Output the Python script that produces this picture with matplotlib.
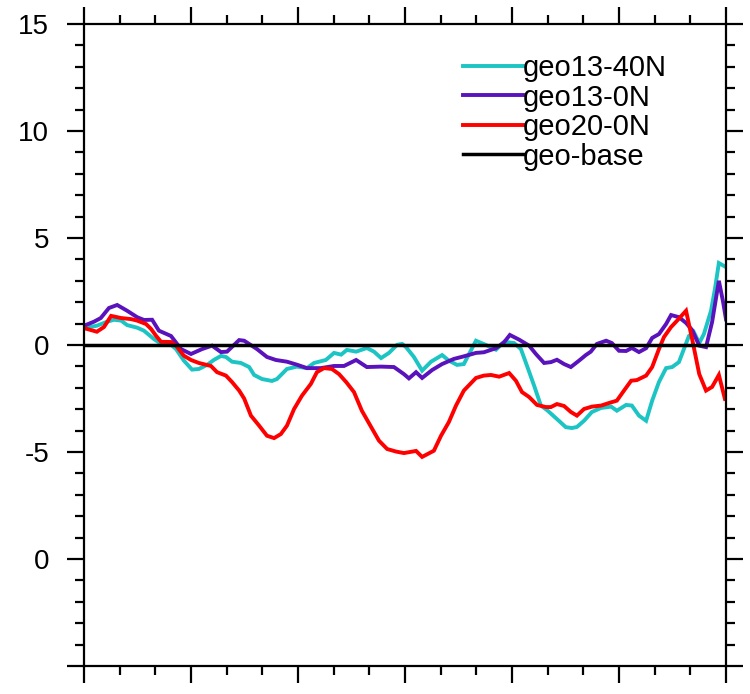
import numpy as np
import matplotlib
matplotlib.use("Agg")
import matplotlib.pyplot as plt
from matplotlib.ticker import MultipleLocator

plt.rcParams['font.family'] = ['Liberation Sans', 'DejaVu Sans']

# geo13-40N
x_40n = [0, 3.6, 6.2, 8.4, 10.4, 12.1, 14.9, 16.8, 19.6, 21.6, 24.4, 25.8, 28.0, 30.3, 32.2,
         34.5, 36.4, 38.4, 39.8, 41.5, 44.0, 46.3, 47.7, 49.9, 52.7, 54.1, 56.9, 59.7, 62.5, 64.5,
         67.8, 70.1, 72.1, 73.7, 76.3, 79.3, 81.3, 83.3, 85.5, 87.8, 89.2, 90.3, 92.5, 94.8, 97.3,
         100.4, 102.3, 104.6, 106.5, 109.9, 112.7, 115.5, 117.8, 120.6, 122.5, 124.2, 126.2, 128.1, 129.8, 132.6,
         135.1, 136.8, 138.2, 140.2, 142.4, 145.0, 147.8, 149.4, 152.0, 153.6, 155.6, 157.6, 159.3, 161.2, 163.2,
         164.9, 166.8, 168.2, 169.6, 171.0, 172.5, 173.8, 175.8, 176.9, 178.0, 180]
y_40n = [0.79, 0.9, 1.07, 1.18, 1.14, 0.93, 0.81, 0.67, 0.28, 0.05, 0.01, -0.19, -0.73, -1.15, -1.12,
         -0.93, -0.7, -0.51, -0.56, -0.78, -0.84, -1.03, -1.4, -1.59, -1.68, -1.59, -1.12, -1.01, -1.08, -0.84,
         -0.7, -0.37, -0.45, -0.23, -0.31, -0.14, -0.31, -0.61, -0.37, 0.01, 0.05, -0.1, -0.56, -1.2, -0.78,
         -0.47, -0.73, -0.93, -0.89, 0.2, 0.0, -0.22, 0.15, 0.09, -0.19, -0.97, -1.9, -2.83, -3.04, -3.46,
         -3.84, -3.88, -3.83, -3.54, -3.13, -2.94, -2.88, -3.07, -2.8, -2.83, -3.3, -3.54, -2.6, -1.73, -1.08,
         -1.03, -0.8, -0.19, 0.42, 0.6, 0.09, 0.51, 1.6, 2.62, 3.83, 3.64]

# geo13-0N
x_13 = [0, 2.8, 4.7, 7.0, 9.3, 12.1, 14.9, 16.8, 19.1, 21.0, 24.4, 27.2, 30.0, 33.1, 35.9,
        38.4, 40.1, 43.5, 44.9, 48.5, 51.3, 53.8, 56.9, 59.7, 62.5, 66.4, 70.1, 72.9, 76.3, 79.3,
        83.3, 86.9, 89.7, 91.1, 93.1, 94.8, 97.6, 100.4, 103.7, 106.5, 109.9, 112.1, 115.5, 117.8, 119.4,
        122.0, 124.8, 126.7, 129.0, 130.9, 132.6, 134.6, 136.5, 138.8, 140.7, 142.1, 143.8, 146.4, 148.0, 150.0,
        152.0, 153.6, 155.6, 157.6, 159.3, 161.2, 163.2, 164.6, 166.8, 168.8, 170.5, 172.5, 174.4, 176.1, 178.0,
        179.2, 180]
y_13 = [0.9, 1.09, 1.26, 1.73, 1.87, 1.6, 1.3, 1.17, 1.18, 0.67, 0.42, -0.19, -0.42, -0.19, -0.03,
        -0.33, -0.31, 0.23, 0.2, -0.19, -0.56, -0.7, -0.78, -0.92, -1.08, -1.08, -0.98, -0.98, -0.7, -1.03,
        -1.01, -1.03, -1.36, -1.56, -1.27, -1.54, -1.17, -0.89, -0.65, -0.53, -0.37, -0.34, -0.15, 0.13, 0.47,
        0.25, -0.03, -0.42, -0.84, -0.8, -0.69, -0.89, -1.03, -0.73, -0.47, -0.31, 0.05, 0.2, 0.09, -0.27,
        -0.28, -0.14, -0.33, -0.15, 0.33, 0.51, 0.98, 1.4, 1.3, 1.03, 0.7, -0.03, -0.1, 1.07, 3.0,
        2.0, 1.2]

# geo20-0N
x_20 = [0, 3.6, 5.6, 7.6, 10.4, 13.2, 14.9, 17.4, 18.8, 20.2, 21.6, 24.4, 25.8, 28.0, 30.0,
        32.2, 35.6, 37.3, 39.8, 41.5, 43.5, 44.9, 46.8, 49.1, 51.3, 53.3, 55.2, 56.9, 58.9, 61.1,
        63.6, 65.3, 67.3, 69.5, 71.5, 73.5, 75.7, 77.9, 80.5, 82.7, 85.0, 87.5, 89.7, 93.1, 94.8,
        98.1, 100.1, 102.3, 104.3, 106.5, 109.9, 112.1, 114.1, 116.4, 119.2, 121.1, 122.8, 124.8, 127.0, 129.5,
        130.9, 132.6, 134.6, 136.5, 138.2, 140.2, 142.4, 145.0, 147.2, 149.4, 151.4, 153.4, 155.0, 157.6, 159.3,
        161.2, 162.6, 164.6, 166.3, 168.8, 170.5, 172.5, 174.4, 176.1, 178.0, 179.7]
y_20 = [0.79, 0.62, 0.84, 1.36, 1.26, 1.21, 1.14, 0.98, 0.75, 0.43, 0.15, 0.14, -0.03, -0.5, -0.7,
        -0.84, -0.98, -1.27, -1.43, -1.73, -2.13, -2.5, -3.3, -3.77, -4.24, -4.35, -4.16, -3.77, -2.99, -2.37,
        -1.82, -1.27, -1.08, -1.12, -1.36, -1.73, -2.2, -3.07, -3.83, -4.47, -4.86, -4.98, -5.05, -4.95, -5.23,
        -4.94, -4.24, -3.6, -2.83, -2.13, -1.54, -1.43, -1.4, -1.48, -1.31, -1.67, -2.2, -2.43, -2.8, -2.9,
        -2.9, -2.76, -2.85, -3.13, -3.3, -2.99, -2.88, -2.83, -2.71, -2.6, -2.13, -1.67, -1.64, -1.43, -1.03,
        -0.19, 0.37, 0.84, 1.14, 1.6, 0.28, -1.36, -2.13, -1.96, -1.4, -2.52]

# geo-base (reference, zero everywhere)
x_base = [0, 180]
y_base = [0, 0]

ytick_vals = [15, 10, 5, 0, -5, -10, -15]
ytick_labels = ["15", "10", "5", "0", "-5", "0", ""]

fig = plt.figure(figsize=(7.5, 6.94), dpi=100)
ax = fig.add_axes([84 / 750, 28 / 694, 642 / 750, 642 / 694])

ax.plot(x_40n, y_40n, color='#1cc4c4', lw=2.8, label='geo13-40N', solid_joinstyle='miter')
ax.plot(x_13, y_13, color='#5a12bc', lw=2.8, label='geo13-0N', solid_joinstyle='miter')
ax.plot(x_20, y_20, color='#ff0000', lw=2.8, label='geo20-0N', solid_joinstyle='miter')
ax.plot(x_base, y_base, color='black', lw=2.5, label='geo-base')

ax.set_xlim(0, 180)
ax.set_ylim(-15, 15)
ax.set_xticks(np.arange(0, 181, 30))
ax.xaxis.set_minor_locator(MultipleLocator(10))
ax.set_yticks(ytick_vals)
ax.set_yticklabels(ytick_labels)
ax.yaxis.set_minor_locator(MultipleLocator(1))
ax.set_xticklabels([])

ax.tick_params(which='both', direction='out', top=True, right=True, width=1.6)
ax.tick_params(which='major', length=12)
ax.tick_params(which='minor', length=6.5)
ax.tick_params(axis='y', labelsize=20, pad=13)
for s in ax.spines.values():
    s.set_linewidth(1.6)

ax.legend(loc='upper left', bbox_to_anchor=(0.590, 0.953), frameon=False,
          fontsize=21, handlelength=2.05, handletextpad=0.0, labelspacing=0.05,
          borderpad=0, borderaxespad=0)

fig.savefig('out.png', dpi=100)
